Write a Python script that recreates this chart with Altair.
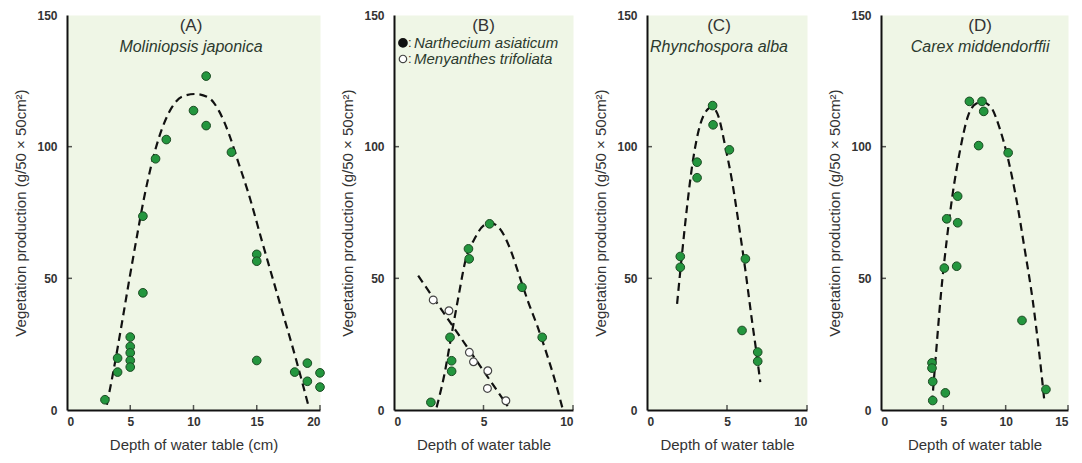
import altair as alt
import pandas as pd

# ---------------- data ----------------
A_x = [3, 4, 4, 5, 5, 5, 5, 5, 6, 6, 7, 7.85, 10, 11, 11, 13, 15, 15, 15, 18, 19, 19, 20, 20]
A_y = [3.9, 19.7, 14.4, 27.7, 24.1, 21.7, 18.8, 16.3, 44.5, 73.6, 95.4, 102.7, 113.7, 126.8,
       108.0, 97.9, 59.1, 56.5, 18.8, 14.4, 17.8, 10.9, 14.1, 8.7]
A_fit_x = [3.15, 3.68, 4.34, 4.87, 5.53, 6.07, 7.24, 8.30, 9.09, 10.15, 11.2, 12.0, 12.79,
           13.58, 14.3, 15.42, 16.74, 18.06, 19.12]
A_fit_y = [2, 15, 33, 48, 66, 80, 103, 115, 119, 120, 118.6, 113.7, 105, 93.5, 83, 64, 42, 20, 1]

B_filled_x = [2.06, 3.13, 3.22, 3.22, 4.16, 4.2, 5.34, 7.15, 8.28]
B_filled_y = [2.9, 27.6, 18.7, 14.7, 61.2, 57.4, 70.7, 46.6, 27.6]
B_open_x = [2.19, 3.07, 4.21, 4.44, 5.24, 5.22, 6.25]
B_open_y = [41.8, 37.7, 21.9, 18.3, 14.9, 8.2, 3.5]
B_fit1_x = [2.38, 2.8, 3.2, 3.6, 4.0, 4.5, 5.0, 5.4, 6.0, 6.5, 7.0, 7.5, 8.0, 8.5, 9.0, 9.4]
B_fit1_y = [1, 13, 28, 43, 57, 65, 70, 71, 68, 61, 51, 41, 32, 22, 11, 1]
B_fit2_x = [1.35, 6.35]
B_fit2_y = [51, 1.5]

C_x = [4.1, 4.13, 5.15, 3.13, 3.13, 2.08, 2.08, 6.15, 5.94, 6.92, 6.92]
C_y = [115.6, 108.3, 98.8, 94.1, 88.2, 58.3, 54.2, 57.4, 30.2, 22.0, 18.5]
C_fit_x = [1.88, 2.19, 2.5, 2.81, 3.23, 3.65, 4.06, 4.48, 4.9, 5.31, 5.73, 6.15, 6.56, 6.88, 7.08]
C_fit_y = [40.3, 59.3, 77, 92.2, 106.2, 113.1, 115, 111.2, 99.8, 87.2, 70.7, 53, 34, 20, 10.6]

D_x = [7.09, 8.1, 8.24, 7.83, 10.2, 6.15, 5.27, 6.15, 5.08, 6.07, 11.31, 4.09, 4.09, 4.15,
       5.16, 4.15, 13.23]
D_y = [117.2, 117.2, 113.4, 100.4, 97.7, 81.2, 72.6, 71.1, 53.9, 54.6, 34, 17.9, 15.9, 10.8,
       6.5, 3.6, 7.8]
D_fit_x = [4.09, 4.41, 4.81, 5.27, 5.75, 6.34, 6.95, 7.62, 8.16, 8.82, 9.49, 10.16, 10.83,
           11.5, 12.17, 12.7, 13.1]
D_fit_y = [2.4, 21.3, 44.1, 64.4, 82.1, 98.6, 111.2, 116.3, 116.9, 115, 107.4, 96, 80.8,
           61.8, 41.6, 21.3, 3.6]

panel_labels = ["(A)", "(B)", "(C)", "(D)"]
species = ["Moliniopsis japonica", "", "Rhynchospora alba", "Carex middendorffii"]
legend_labels = ["Narthecium asiaticum", "Menyanthes trifoliata"]
x_titles = ["Depth of water table (cm)", "Depth of water table",
            "Depth of water table", "Depth of water table"]
y_title = "Vegetation production (g/50 \u00d7 50cm\u00b2)"
y_ticks = [0, 50, 100, 150]

FONT = "Liberation Sans"
BG = "#eff6e6"
PT_FILL = "#23963e"
PT_STROKE = "#1b4a22"
H = 395


def panel(width, xmax, xticks, label, label_x, sp, xtitle, pts, fits, extra_layers=()):
    xs = alt.Scale(domain=[0, xmax], nice=False, zero=True)
    ys = alt.Scale(domain=[0, 150], nice=False)
    xaxis = alt.Axis(values=xticks, title=xtitle, ticks=False, grid=False,
                     labelFontSize=12, labelFontWeight="bold", labelColor="#333",
                     labelPadding=6, titleFontSize=15, titleFontWeight="normal",
                     titleColor="#333", titlePadding=10, domainColor="#111",
                     domainWidth=2, labelFont=FONT, titleFont=FONT, format="d")
    yaxis = alt.Axis(values=y_ticks, title=y_title, ticks=False, grid=False,
                     labelFontSize=12, labelFontWeight="bold", labelColor="#333",
                     labelPadding=10, titleFontSize=15, titleFontWeight="normal",
                     titleColor="#333", titlePadding=8, domainColor="#111",
                     domainWidth=2, labelFont=FONT, titleFont=FONT, format="d")

    def X(f="x"):
        return alt.X(f + ":Q", scale=xs, axis=xaxis)

    def Y(f="y"):
        return alt.Y(f + ":Q", scale=ys, axis=yaxis)

    layers = []
    for fx, fy in fits:
        df = pd.DataFrame({"x": fx, "y": fy, "o": list(range(len(fx)))})
        layers.append(
            alt.Chart(df).mark_line(color="#111", strokeWidth=2.2, strokeDash=[8, 5],
                                    interpolate="monotone")
            .encode(x=X(), y=Y(), order="o:Q"))
    for px, py in pts:
        df = pd.DataFrame({"x": px, "y": py})
        layers.append(
            alt.Chart(df).mark_point(shape="circle", filled=True, size=75, fill=PT_FILL,
                                     stroke=PT_STROKE, strokeWidth=1, opacity=1)
            .encode(x=X(), y=Y()))
    layers.extend(extra_layers(X, Y) if callable(extra_layers) else [])

    # inward ticks
    ytk = pd.DataFrame({"y": [50, 100]})
    layers.append(alt.Chart(ytk).mark_tick(orient="horizontal", color="#111", size=5,
                                           thickness=1.5)
                  .encode(y=Y(), x=alt.value(2.5)))
    xtk = pd.DataFrame({"x": [v for v in xticks if v != 0]})
    layers.append(alt.Chart(xtk).mark_tick(orient="vertical", color="#111", size=5,
                                           thickness=1.5)
                  .encode(x=X(), y=alt.value(H - 2.5)))

    tdf = pd.DataFrame({"x": [label_x], "y": [146], "t": [label]})
    layers.append(alt.Chart(tdf).mark_text(font=FONT, fontSize=17, color="#333",
                                           baseline="middle", align="center")
                  .encode(x=X(), y=Y(), text="t:N"))
    if sp:
        sdf = pd.DataFrame({"x": [label_x], "y": [138], "t": [sp]})
        layers.append(alt.Chart(sdf).mark_text(font=FONT, fontSize=16, fontStyle="italic",
                                               color="#2c3a2e", baseline="middle",
                                               align="center")
                      .encode(x=X(), y=Y(), text="t:N"))
    return alt.layer(*layers).properties(width=width, height=H)


def b_extra(X, Y):
    out = []
    opdf = pd.DataFrame({"x": B_open_x, "y": B_open_y})
    out.append(alt.Chart(opdf).mark_point(shape="circle", filled=True, size=60, fill="white",
                                          stroke="#444", strokeWidth=1.2, opacity=1)
               .encode(x=X(), y=Y()))
    # legend
    lg = pd.DataFrame({"x": [0.5, 0.5], "y": [139.4, 133.3], "t": legend_labels,
                       "k": ["filled", "open"]})
    out.append(alt.Chart(lg).transform_filter("datum.k == 'filled'")
               .mark_point(shape="circle", filled=True, size=60, fill="#111", stroke="#111",
                           opacity=1)
               .encode(x=X(), y=Y()))
    out.append(alt.Chart(lg).transform_filter("datum.k == 'open'")
               .mark_point(shape="circle", filled=True, size=55, fill="white", stroke="#444",
                           strokeWidth=1.2, opacity=1)
               .encode(x=X(), y=Y()))
    out.append(alt.Chart(lg).transform_calculate(c="':'").mark_text(
        font=FONT, fontSize=13, color="#333", align="left", baseline="middle", dx=5)
        .encode(x=X(), y=Y(), text="c:N"))
    out.append(alt.Chart(lg).mark_text(font=FONT, fontSize=15, fontStyle="italic",
                                       color="#2c3a2e", align="left", baseline="middle",
                                       dx=11)
               .encode(x=X(), y=Y(), text="t:N"))
    return out


pA = panel(253, 20, [0, 5, 10, 15, 20], panel_labels[0], 9.8, species[0], x_titles[0],
           [(A_x, A_y)], [(A_fit_x, A_fit_y)])
pB = panel(179, 10, [0, 5, 10], panel_labels[1], 5.0, species[1], x_titles[1],
           [(B_filled_x, B_filled_y)], [(B_fit1_x, B_fit1_y), (B_fit2_x, B_fit2_y)],
           extra_layers=b_extra)
pC = panel(160, 10, [0, 5, 10], panel_labels[2], 4.5, species[2], x_titles[2],
           [(C_x, C_y)], [(C_fit_x, C_fit_y)])
pD = panel(187, 15, [0, 5, 10, 15], panel_labels[3], 7.95, species[3], x_titles[3],
           [(D_x, D_y)], [(D_fit_x, D_fit_y)])

chart = (alt.hconcat(pA, pB, pC, pD, spacing=74, bounds="flush")
         .properties(padding={"left": 5, "top": 0, "right": 0, "bottom": 0},
                     background="white")
         .configure_view(fill=BG, stroke="transparent"))

chart.save("out.html", embed_options={"renderer": "svg", "actions": False})
